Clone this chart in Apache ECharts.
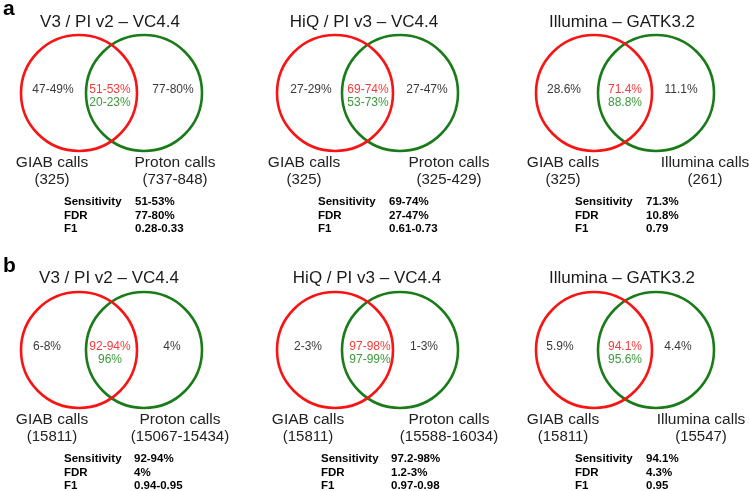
<!DOCTYPE html>
<html><head><meta charset="utf-8">
<script src="https://cdn.jsdelivr.net/npm/echarts@6/dist/echarts.min.js"></script>
<style>html,body{margin:0;padding:0;background:#fff}#c{width:750px;height:491px}</style>
</head><body><div id="c"></div>
<script>
// ---------- data ----------
const panelLetters = ['a', 'b'];
const panelTitles = ['V3 / PI v2 – VC4.4', 'HiQ / PI v3 – VC4.4', 'Illumina – GATK3.2'];
const setALabels = ['GIAB calls', 'GIAB calls', 'GIAB calls'];
const setBLabels = ['Proton calls', 'Proton calls', 'Illumina calls'];
const statNames = ['Sensitivity', 'FDR', 'F1'];
// row a
const countsGIAB_a = ['325', '325', '325'];
const countsOther_a = ['737-848', '325-429', '261'];
const onlyGIAB_a = ['47-49%', '27-29%', '28.6%'];
const overlapGIAB_a = ['51-53%', '69-74%', '71.4%'];
const overlapOther_a = ['20-23%', '53-73%', '88.8%'];
const onlyOther_a = ['77-80%', '27-47%', '11.1%'];
const sensitivity_a = ['51-53%', '69-74%', '71.3%'];
const fdr_a = ['77-80%', '27-47%', '10.8%'];
const f1_a = ['0.28-0.33', '0.61-0.73', '0.79'];
// row b
const countsGIAB_b = ['15811', '15811', '15811'];
const countsOther_b = ['15067-15434', '15588-16034', '15547'];
const onlyGIAB_b = ['6-8%', '2-3%', '5.9%'];
const overlapGIAB_b = ['92-94%', '97-98%', '94.1%'];
const overlapOther_b = ['96%', '97-99%', '95.6%'];
const onlyOther_b = ['4%', '1-3%', '4.4%'];
const sensitivity_b = ['92-94%', '97.2-98%', '94.1%'];
const fdr_b = ['4%', '1.2-3%', '4.3%'];
const f1_b = ['0.94-0.95', '0.97-0.98', '0.95'];

const rows = [
  {counts: [countsGIAB_a, countsOther_a], only: [onlyGIAB_a, onlyOther_a], overlap: [overlapGIAB_a, overlapOther_a], stats: [sensitivity_a, fdr_a, f1_a]},
  {counts: [countsGIAB_b, countsOther_b], only: [onlyGIAB_b, onlyOther_b], overlap: [overlapGIAB_b, overlapOther_b], stats: [sensitivity_b, fdr_b, f1_b]}
];

// ---------- layout (pixel-space axes) ----------
const L = {
  rowOffset: [0, 257],
  redCx: [79, 335, 594], greenCx: [144, 400, 656], cy: 93, r: 58,
  titleX: [[110, 364, 622], [109, 367, 622]], titleY: [22, 21],
  leftX: [[53, 311, 564], [47, 308, 560]],
  midX: [[110, 368, 625], [110, 370, 625]],
  rightX: [[173, 427, 681], [172, 424, 678]],
  textY: [90, 103],
  setAX: [[52, 304, 563], [52, 308, 563]],
  setBX: [[175, 449, 705], [180, 449, 701]],
  labelY: [163, 180],
  statNameX: [[64, 318, 575], [64, 321, 575]],
  statValX: [[135, 389, 646], [134, 391, 646]],
  statY: [202, 216, 229],
  letterX: 3, letterY: [9, 9]
};
const FONT = '"Liberation Sans", Arial, sans-serif';
const RED = '#f81414', GREEN = '#1b7b1b', RED_T = '#f53b3b', GREEN_T = '#3c993c', GRAY = '#3a3a3a';

const circles = [];
const texts = [];
function addText(x, y, text, s) { texts.push(Object.assign({x, y, text}, s)); }

rows.forEach((row, ri) => {
  const dy = L.rowOffset[ri];
  addText(L.letterX, L.letterY[ri] + dy, panelLetters[ri], {size: 21, weight: 'bold', color: '#000', align: 'left'});
  for (let p = 0; p < 3; p++) {
    circles.push([L.greenCx[p], L.cy + dy, L.r, 1]);
    circles.push([L.redCx[p], L.cy + dy, L.r, 0]);
    addText(L.titleX[ri][p], L.titleY[ri] + dy, panelTitles[p], {size: 17, color: '#1a1a1a'});
    addText(L.leftX[ri][p], L.textY[0] + dy, row.only[0][p], {size: 12, color: GRAY});
    addText(L.rightX[ri][p], L.textY[0] + dy, row.only[1][p], {size: 12, color: GRAY});
    addText(L.midX[ri][p], L.textY[0] + dy, row.overlap[0][p], {size: 12, color: RED_T});
    addText(L.midX[ri][p], L.textY[1] + dy, row.overlap[1][p], {size: 12, color: GREEN_T});
    addText(L.setAX[ri][p], L.labelY[0] + dy, setALabels[p], {size: 15.5, color: '#222'});
    addText(L.setAX[ri][p], L.labelY[1] + dy, '(' + row.counts[0][p] + ')', {size: 15, color: '#222'});
    addText(L.setBX[ri][p], L.labelY[0] + dy, setBLabels[p], {size: 15.5, color: '#222'});
    addText(L.setBX[ri][p], L.labelY[1] + dy, '(' + row.counts[1][p] + ')', {size: 15, color: '#222'});
    for (let k = 0; k < 3; k++) {
      addText(L.statNameX[ri][p], L.statY[k] + dy, statNames[k], {size: 11.5, weight: 'bold', color: '#000', align: 'left'});
      addText(L.statValX[ri][p], L.statY[k] + dy, row.stats[k][p], {size: 11.5, weight: 'bold', color: '#000', align: 'left'});
    }
  }
});

const chart = echarts.init(document.getElementById('c'), null, {renderer: 'canvas'});
chart.setOption({
  animation: false,
  backgroundColor: '#fff',
  grid: {left: 0, right: 0, top: 0, bottom: 0, outerBoundsMode: 'none'},
  xAxis: {type: 'value', min: 0, max: 750, show: false},
  yAxis: {type: 'value', min: 0, max: 491, inverse: true, show: false},
  series: [
    {
      type: 'custom', clip: false, silent: true,
      data: circles,
      renderItem: function (params, api) {
        const c = api.coord([api.value(0), api.value(1)]);
        const s = api.size([api.value(2), api.value(2)]);
        return {type: 'circle', shape: {cx: c[0], cy: c[1], r: s[0]},
          style: {fill: 'none', stroke: api.value(3) === 0 ? RED : GREEN, lineWidth: 2.6}};
      }
    },
    {
      type: 'custom', clip: false, silent: true,
      data: texts.map((t, i) => [t.x, t.y, i]),
      renderItem: function (params, api) {
        const t = texts[api.value(2)];
        const c = api.coord([api.value(0), api.value(1)]);
        return {type: 'text', x: c[0], y: c[1],
          style: {text: t.text, fill: t.color, font: (t.weight || 'normal') + ' ' + t.size + 'px ' + FONT,
            align: t.align || 'center', verticalAlign: 'middle'}};
      }
    }
  ]
});
</script></body></html>
